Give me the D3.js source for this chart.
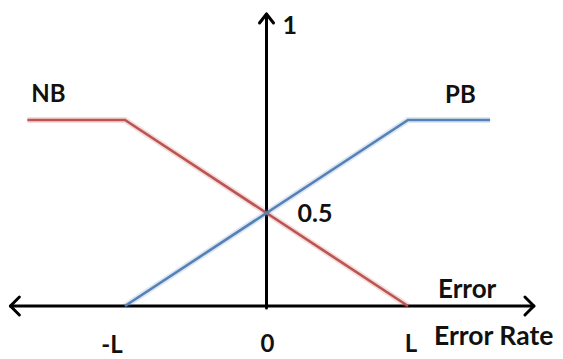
<!DOCTYPE html>
<html>
<head>
<meta charset="utf-8">
<script src="https://cdn.jsdelivr.net/npm/d3@7"></script>
<style>
  html, body { margin: 0; padding: 0; background: #fff; }
  svg { display: block; }
  text { font-family: Lato, "Open Sans", sans-serif; font-weight: bold; fill: #111; }
</style>
</head>
<body>
<svg id="chart" width="563" height="359"></svg>
<script>
// Membership functions (x in units of L, y = membership degree)
const nbX = [-1.69, -1, 1];
const nbY = [1, 1, 0];
const pbX = [-1, 1, 1.58];
const pbY = [0, 1, 1];
const seriesNames = ["NB", "PB"];
const tickValues = [-1, 0, 1];
const tickLabels = ["-L", "0", "L"];
const yTickValues = [1, 0.5];
const yTickLabels = ["1", "0.5"];
const axisLabels = ["Error", "Error Rate"];

const svg = d3.select("#chart");
const x = d3.scaleLinear().domain([-1, 1]).range([125, 408]);
const y = d3.scaleLinear().domain([0, 1]).range([306, 120]);

const line = d3.line().x(d => x(d[0])).y(d => y(d[1]));

// axes
const xMin = -1.81, xMax = 1.89, yMax = 1.57;
const axisG = svg.append("g").attr("stroke", "#000").attr("stroke-width", 3)
  .attr("fill", "none").attr("stroke-linecap", "round").attr("stroke-linejoin", "round");
axisG.append("line").attr("x1", x(xMin)).attr("x2", x(xMax)).attr("y1", y(0)).attr("y2", y(0));
axisG.append("line").attr("x1", x(0)).attr("x2", x(0)).attr("y1", y(0) + 2).attr("y2", y(yMax));
const ah = 9;
axisG.append("path").attr("d", `M${x(xMax) - ah},${y(0) - ah} L${x(xMax)},${y(0)} L${x(xMax) - ah},${y(0) + ah}`);
axisG.append("path").attr("d", `M${x(xMin) + ah},${y(0) - ah} L${x(xMin)},${y(0)} L${x(xMin) + ah},${y(0) + ah}`);
axisG.append("path").attr("d", `M${x(0) - ah + 2},${y(yMax) + ah} L${x(0)},${y(yMax)} L${x(0) + ah - 2},${y(yMax) + ah}`);

// series
const series = [
  { name: seriesNames[0], pts: nbX.map((v, i) => [v, nbY[i]]), color: "#bc5552" },
  { name: seriesNames[1], pts: pbX.map((v, i) => [v, pbY[i]]), color: "#5482b8" }
];
series.forEach(s => {
  svg.append("path").datum(s.pts).attr("d", line)
    .attr("fill", "none").attr("stroke", s.color)
    .attr("stroke-opacity", 0.2).attr("stroke-width", 6);
  svg.append("path").datum(s.pts).attr("d", line)
    .attr("fill", "none").attr("stroke", s.color).attr("stroke-width", 2.6);
});

// series labels
svg.append("text").attr("x", x(nbX[0]) + 4).attr("y", 102).attr("font-size", 24).text(seriesNames[0]);
svg.append("text").attr("x", x(pbX[2]) - 45).attr("y", 103).attr("font-size", 24).text(seriesNames[1]);

// y tick labels
svg.append("text").attr("x", x(0) + 16).attr("y", 34).attr("font-size", 25).text(yTickLabels[0]);
svg.append("text").attr("x", x(0) + 31).attr("y", 222).attr("font-size", 25).text(yTickLabels[1]);

// x tick labels
const tickDx = [-13, 1, 3];
const tickBase = [353, 352, 352];
tickValues.forEach((v, i) => {
  svg.append("text").attr("x", x(v) + tickDx[i]).attr("y", tickBase[i])
    .attr("text-anchor", "middle").attr("font-size", 24).text(tickLabels[i]);
});

// axis labels
svg.append("text").attr("x", 438).attr("y", 298).attr("font-size", 26).text(axisLabels[0]);
svg.append("text").attr("x", 434).attr("y", 345).attr("font-size", 26.5).text(axisLabels[1]);
</script>
</body>
</html>
